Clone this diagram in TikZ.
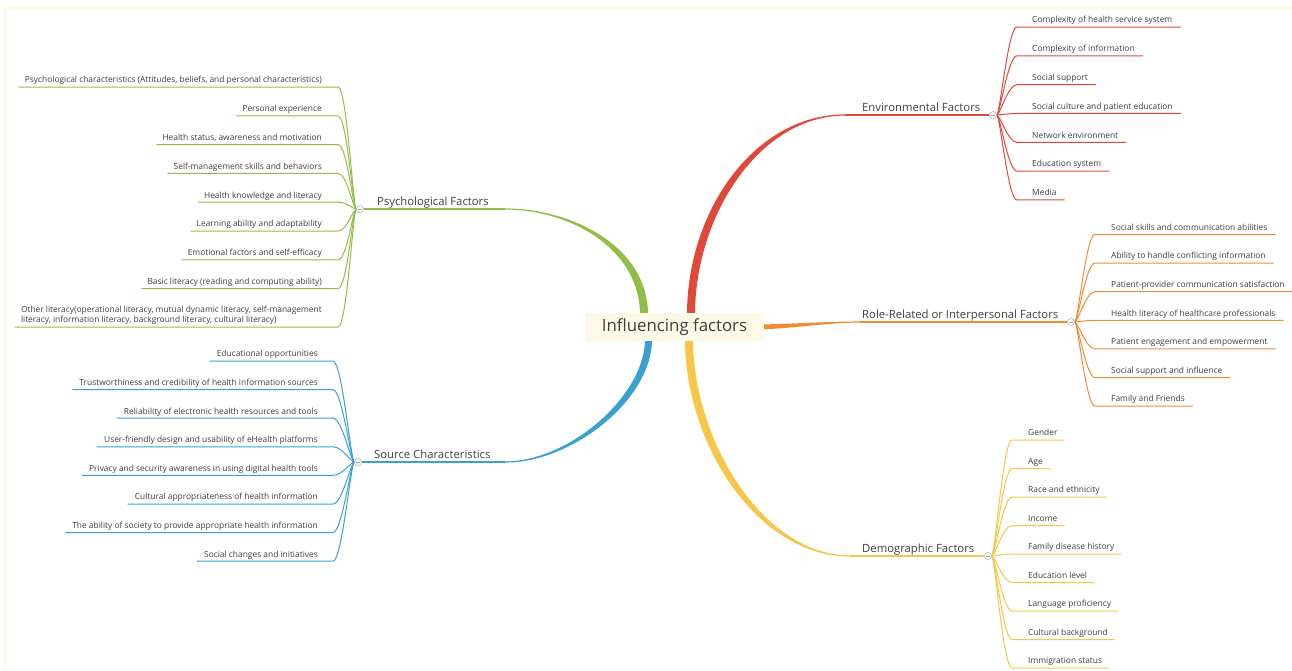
\documentclass[tikz,border=0pt]{standalone}
\usepackage{fontspec}
\setmainfont{Open Sans}
\usetikzlibrary{calc}
\pgfdeclarelayer{bg}
\pgfsetlayers{bg,main}
\definecolor{cgreen}{RGB}{146,190,72}
\definecolor{cblue}{RGB}{58,160,210}
\definecolor{cred}{RGB}{224,72,58}
\definecolor{corange}{RGB}{238,140,52}
\definecolor{cyellow}{RGB}{246,198,72}
\definecolor{txt}{RGB}{62,62,62}
\definecolor{rootfill}{RGB}{252,250,230}
\definecolor{frame}{RGB}{253,251,215}
\begin{document}
\begin{tikzpicture}[x=1pt,y=-1pt,
  leaf/.style={inner xsep=0pt, inner ysep=2pt, text depth=2pt, text=txt,
    font=\fontsize{8.4}{10}\selectfont},
  mainlbl/.style={inner sep=0pt, text=txt, anchor=base west,
    font=\fontsize{11.3}{13}\selectfont},
  rootbox/.style={fill=rootfill, text=txt, minimum width=179pt, minimum height=28pt,
    inner sep=0pt, font=\fontsize{16.8}{19}\selectfont},
  dot/.style={circle, draw=black!35, fill=white, minimum size=7pt, inner sep=0pt,
    line width=0.5pt, path picture={\draw[black!35, line width=0.5pt]
      ([xshift=-2pt]path picture bounding box.center) -- ([xshift=2pt]path picture bounding box.center);}},
  sub/.style={line width=1.1pt},
  kid/.style={line width=1pt}
]
\useasboundingbox (0,0) rectangle (1292,670);
% faint frame
\draw[frame, line width=1.2pt] (5,670) -- (5,8) -- (1292,8);

% root
\node[rootbox] (root) at (674.5,327) {Influencing factors};

% main labels
\node[mainlbl] (psy) at (377,205.5) {Psychological Factors};
\node[mainlbl] (src) at (374,458.5) {Source Characteristics};
\node[mainlbl] (env) at (862,111.5) {Environmental Factors};
\node[mainlbl] (role) at (862,318.5) {Role-Related or Interpersonal Factors};
\node[mainlbl] (demo) at (862,552.5) {Demographic Factors};

% circles
\node[dot] (psyC) at (360,209) {};
\node[dot] (srcC) at (358,462) {};
\node[dot] (envC) at (993,115) {};
\node[dot] (roleC) at (1071,322) {};
\node[dot] (demoC) at (988,556) {};

\coordinate (psyT) at (505,209);
\coordinate (srcT) at (505,462);
\coordinate (envT) at (845,115);
\coordinate (roleT) at (860,322);
\coordinate (demoT) at (850,556);

% leaves: Psychological
\foreach \t [count=\i] in {
  {Psychological characteristics (Attitudes, beliefs, and personal characteristics)},
  Personal experience,
  {Health status, awareness and motivation},
  Self-management skills and behaviors,
  Health knowledge and literacy,
  Learning ability and adaptability,
  Emotional factors and self-efficacy,
  Basic literacy (reading and computing ability)}
  \node[leaf, anchor=south east] (psy\i) at (322,{87+28.8*(\i-1)}) {\t};
\node[leaf, anchor=south east, align=left] (psy9) at (322,327)
  {Other literacy(operational literacy, mutual dynamic literacy, self-management\\literacy, information literacy, background literacy, cultural literacy)};

% leaves: Source
\foreach \t [count=\i] in {
  Educational opportunities,
  Trustworthiness and credibility of health information sources,
  Reliability of electronic health resources and tools,
  User-friendly design and usability of eHealth platforms,
  Privacy and security awareness in using digital health tools,
  Cultural appropriateness of health information,
  The ability of society to provide appropriate health information,
  Social changes and initiatives}
  \node[leaf, anchor=south east] (src\i) at (318,{361+28.6*(\i-1)}) {\t};

% leaves: Environmental
\foreach \t [count=\i] in {
  Complexity of health service system,
  Complexity of information,
  Social support,
  Social culture and patient education,
  Network environment,
  Education system,
  Media}
  \node[leaf, anchor=south west] (env\i) at (1032,{27+28.83*(\i-1)}) {\t};

% leaves: Role
\foreach \t [count=\i] in {
  Social skills and communication abilities,
  Ability to handle conflicting information,
  Patient-provider communication satisfaction,
  Health literacy of healthcare professionals,
  Patient engagement and empowerment,
  Social support and influence,
  Family and Friends}
  \node[leaf, anchor=south west] (role\i) at (1111,{234.5+28.6*(\i-1)}) {\t};

% leaves: Demographic
\foreach \t [count=\i] in {
  Gender, Age, Race and ethnicity, Income, Family disease history,
  Education level, Language proficiency, Cultural background, Immigration status}
  \node[leaf, anchor=south west] (demo\i) at (1028,{440+28.5*(\i-1)}) {\t};

\begin{pgfonlayer}{bg}
% tapered main branches
\fill[cgreen] (psyT) ++(0,-0.6) .. controls (570,208.4) and (648,245) .. ($(root.north)+(-26.5,2)$)
  -- ($(root.north)+(-34.5,2)$) .. controls (640,250) and (572,209.6) .. ($(psyT)+(0,0.6)$) -- cycle;
\fill[cblue] (srcT) ++(0,0.6) .. controls (572,462.6) and (652,400) .. ($(root.south)+(-22.5,-2)$)
  -- ($(root.south)+(-29.5,-2)$) .. controls (645,395) and (570,461.4) .. ($(srcT)+(0,-0.6)$) -- cycle;
\fill[cred] (envT) ++(0,-0.6) .. controls (755,114.4) and (687,210) .. ($(root.north)+(12.5,2)$)
  -- ($(root.north)+(20.5,2)$) .. controls (695,215) and (760,115.6) .. ($(envT)+(0,0.6)$) -- cycle;
\fill[cyellow] (demoT) ++(0,0.6) .. controls (758,556.6) and (685,445) .. ($(root.south)+(10.5,-2)$)
  -- ($(root.south)+(18.5,-2)$) .. controls (693,440) and (763,555.4) .. ($(demoT)+(0,-0.6)$) -- cycle;
\fill[corange] ($(root.east)+(-2,-2.5)$) .. controls (800,323.5) and (830,321.4) .. ($(roleT)+(0,-0.55)$)
  -- ($(roleT)+(0,0.55)$) .. controls (830,322.6) and (800,327.5) .. ($(root.east)+(-2,2.5)$) -- cycle;

% main underlines
\draw[cgreen, sub] (psyT) -- (psyC);
\draw[cblue, sub] (srcT) -- (srcC);
\draw[cred, sub] (envT) -- (envC);
\draw[corange, sub] (roleT) -- (roleC);
\draw[cyellow, sub] (demoT) -- (demoC);

% child connectors
\foreach \i in {1,...,9}
  \draw[cgreen, kid] (psyC) .. controls +(-7,0) and +(9,0) .. ([xshift=16pt]psy\i.south east) -- ([xshift=-6pt]psy\i.south west);
\foreach \i in {1,...,8}
  \draw[cblue, kid] (srcC) .. controls +(-7,0) and +(9,0) .. ([xshift=15pt]src\i.south east) -- ([xshift=-7pt]src\i.south west);
\foreach \i in {1,...,7}
  \draw[cred, kid] (envC) .. controls +(7,0) and +(-9,0) .. ([xshift=-15pt]env\i.south west) -- ([xshift=8pt]env\i.south east);
\foreach \i in {1,...,7}
  \draw[corange, kid] (roleC) .. controls +(7,0) and +(-9,0) .. ([xshift=-16pt]role\i.south west) -- ([xshift=8pt]role\i.south east);
\foreach \i in {1,...,9}
  \draw[cyellow, kid] (demoC) .. controls +(7,0) and +(-9,0) .. ([xshift=-16pt]demo\i.south west) -- ([xshift=7pt]demo\i.south east);
\end{pgfonlayer}
\end{tikzpicture}
\end{document}
